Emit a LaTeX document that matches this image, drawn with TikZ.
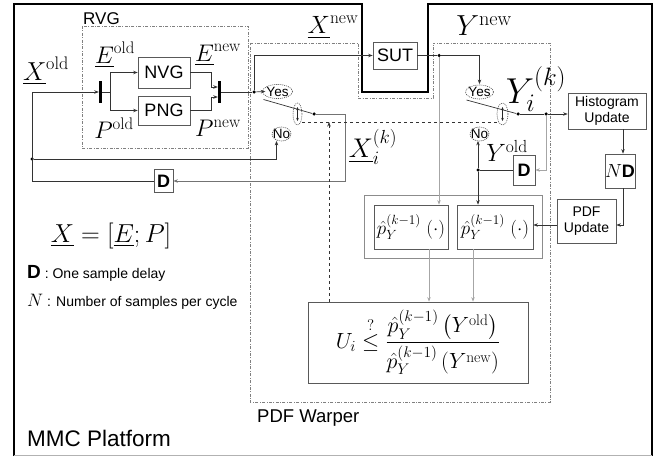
\RequirePackage{fix-cm}
\documentclass[tikz,border=0pt]{standalone}
\usepackage{amsmath}
\usepackage{fontspec}
\setsansfont{Liberation Sans}
\usetikzlibrary{arrows.meta,shapes.geometric,fit,calc}
\tikzset{
 ln/.style={draw=black!80, line width=0.7pt},
 gl/.style={draw=black!35, line width=0.9pt},
 ml/.style={draw=black!55, line width=0.8pt},
 arr/.style={-{Stealth[length=4.5pt,width=3.5pt]}},
 blk/.style={rectangle, draw=black!65, line width=0.7pt, fill=white, inner sep=0pt},
 sf/.style={font=\fontsize{#1}{#1}\selectfont\sffamily},
 mth/.style={font=\fontsize{#1}{#1}\selectfont, inner sep=0pt},
 yn/.style={rectangle, inner sep=0pt, font=\fontsize{13.5}{13.5}\selectfont\sffamily},
 ynring/.style={draw=black!75, line width=0.6pt, dash pattern=on 1pt off 1pt},
 swell/.style={ellipse, draw=black!70, line width=0.6pt, dash pattern=on 1pt off 1pt, inner sep=0pt, minimum height=22pt},
 dd/.style={draw=black!50, line width=0.6pt, dash pattern=on 3pt off 1.5pt on 0.8pt off 1.5pt},
 dt/.style={circle, fill=black, inner sep=0pt, minimum size=3.5pt},
 bar/.style={rectangle, fill=black, inner sep=0pt, minimum width=3pt, minimum height=22pt},
 dbl/.style={{Stealth[length=3pt,width=2.5pt]}-{Stealth[length=3pt,width=2.5pt]}, draw=black!85, line width=0.5pt},
}
\begin{document}
\begin{tikzpicture}[x=1pt,y=-1pt]
\useasboundingbox (0,0) rectangle (660,457);
% frame
\draw[line width=2pt, black] (14,456) -- (14,4) -- (362,4) -- (362,92) -- (428,92) -- (428,4) -- (652,4) -- (652,456);
\draw[black!30, line width=0.6pt] (14,455.5) -- (652,455.5);
% dashed regions
\draw[dd] (82,26) rectangle (248,148);
\node[sf=17, anchor=south west, inner sep=0pt] (rvgl) at (83,25) {RVG};
\draw[dd] (250,43) -- (358,43) -- (358,98) -- (433,98) -- (433,43) -- (550,43) -- (550,402) -- (250,402) -- cycle;
\node[sf=18.5, anchor=north west, inner sep=0pt] (pdfl) at (257,410) {PDF Warper};
\node[sf=22.5, anchor=south west, inner sep=0pt] (mmcl) at (27,447) {MMC Platform};
% blocks
\node[blk, minimum width=52pt, minimum height=31pt, sf=18] (nvg) at (164,72.5) {NVG};
\node[blk, minimum width=52pt, minimum height=29pt, sf=18] (png) at (164,110.5) {PNG};
\node[bar] (s1) at (100.5,92) {};
\node[bar] (m1) at (219.5,92) {};
\node[blk, minimum width=44pt, minimum height=27pt, sf=18] (sut) at (395,55.5) {SUT};
\node[blk, minimum width=19pt, minimum height=23pt, sf=18] (d1) at (163.5,181) {\bfseries D};
\node[blk, minimum width=22pt, minimum height=30pt, sf=18] (d2) at (524,170) {\bfseries D};
\node[blk, minimum width=78pt, minimum height=36pt, font=\fontsize{14}{16.5}\selectfont\sffamily, align=center] (hist) at (607,111) {Histogram\\Update};
\node[blk, minimum width=28pt, minimum height=34pt] (nd) at (620,171) {{\fontsize{19}{19}\selectfont$N$}{\fontsize{18}{18}\selectfont\sffamily\bfseries D}};
\node[blk, minimum width=59pt, minimum height=44pt, font=\fontsize{14}{16.5}\selectfont\sffamily, align=center] (pdfu) at (586.5,221) {PDF\\Update};
\node[blk, minimum width=74pt, minimum height=44pt, mth=19] (pb1) at (411,227) {$\hat{p}_Y^{(k-1)}\;(\cdot)$};
\node[blk, minimum width=76pt, minimum height=44pt, mth=19] (pb2) at (495,227) {$\hat{p}_Y^{(k-1)}\;(\cdot)$};
\node[draw=black!45, line width=0.7pt, fit=(pb1)(pb2), inner sep=9pt] (pbox) {};
\node[blk, minimum width=220pt, minimum height=81pt, mth=22] (ub) at (418,342.5) {$U_i \stackrel{?}{\leq} \dfrac{\hat{p}_Y^{(k-1)}\left(Y^{\mathrm{old}}\right)}{\hat{p}_Y^{(k-1)}\left(Y^{\mathrm{new}}\right)}$};
% yes / no
\node[yn] (y1) at (277.5,91.5) {Yes};
\node[yn] (n1) at (281.5,134) {No};
\node[yn] (y2) at (479.5,92) {Yes};
\node[yn] (n2) at (479.5,134) {No};
\draw[ynring] (y1.center) ellipse [x radius=15pt, y radius=7pt];
\draw[ynring] (n1.center) ellipse [x radius=9.5pt, y radius=7pt];
\draw[ynring] (y2.center) ellipse [x radius=14pt, y radius=7pt];
\draw[ynring] (n2.center) ellipse [x radius=9.5pt, y radius=7pt];
\node[swell, minimum width=9pt] (sw1) at (297.5,114) {};
\node[swell, minimum width=11pt] (sw2) at (502.5,114) {};
\draw[dbl] ([yshift=7pt]sw1.center) -- ([yshift=-7pt]sw1.center);
\draw[dbl] ([yshift=7pt]sw2.center) -- ([yshift=-7pt]sw2.center);
% dots and coordinates
\node[dt] (dot1) at (254,92) {};
\node[dt] (piv1) at (314,114) {};
\node[dt] (dot2) at (439,55.5) {};
\node[dt] (piv2) at (518,114) {};
\node[dt] (dot3) at (546,114) {};
\node[dt] (dot4) at (478,170) {};
\node[dt] (j1) at (32,159) {};
\coordinate (cA) at (32,181);
\coordinate (cB) at (32,92);
\coordinate (cC) at (345,114);
\coordinate (cD) at (345,181);
\coordinate (cE) at (329,122);
\coordinate (q1) at (429,249);
\coordinate (q2) at (473,249);
\coordinate (cN) at (623,225);
\coordinate (cP) at (557,225);
% connectors RVG
\draw[ln,arr] (d1.west) -- (cA) -- (cB) -- (s1.west);
\draw[ln,arr] (j1) -| ([xshift=-5pt,yshift=-2pt]n1.south);
\draw[ln,arr] (s1.east) -- ++(8,0) coordinate (sb) |- (nvg.west);
\draw[ln,arr] (sb) |- (png.west);
\draw[ln,arr] (nvg.east) -| ([xshift=-6pt,yshift=5pt]m1.west) -- ([yshift=5pt]m1.west);
\draw[ln,arr] (png.east) -| ([xshift=-6pt,yshift=-5pt]m1.west) -- ([yshift=-5pt]m1.west);
\draw[ln] (m1.east) -- (dot1);
\draw[ln,arr] (dot1) -- ([xshift=-1pt]y1.west);
\draw[ln,arr] (dot1) |- (sut.west);
\draw[ln] (sut.east) -- (dot2);
\draw[ln,arr] (dot2) -| ([yshift=3pt]y2.north);
\draw[gl,arr] (dot2) -- (dot2 |- pb1.north);
% switch 1
\draw[ln] ($(y1.center)+(-14,8)$) -- (piv1);
\draw[ml,arr] (piv1) -- (cC) -- (cD) -- (d1.east);
\draw[ln,dashed] ([yshift=-8pt]sw1.east) -- ([yshift=-8pt]sw2.west);
\draw[ln,dashed,arr] (cE |- ub.north) -- (cE);
% switch 2
\draw[ln] ($(y2.center)+(-13,8)$) -- (piv2);
\draw[ln] (piv2) -- (dot3);
\draw[ln,arr] (dot3) -- (dot3 -| hist.west);
\draw[gl,arr] (dot3) |- (d2.east);
\draw[ln] (d2.west) -- (dot4);
\draw[ln,arr] (dot4) -- ([yshift=-2pt]dot4 |- n2.south);
\draw[ln,arr] (dot4) -- (dot4 |- pb2.north);
\draw[ln,arr] (hist.south -| cN) -- (nd.north -| cN);
\draw[ln,arr] (nd.south -| cN) -- (cN) -- (cN -| pdfu.east);
\draw[ln,arr] (cP) -- (cP -| pb2.east);
\draw[gl,arr] (q1) -- (q1 |- ub.north);
\draw[gl,arr] (q2) -- (q2 |- ub.north);
% math labels
\node[mth=26] (lxold) at (46,71) {$\underline{X}^{\mathrm{old}}$};
\node[mth=24] (leold) at (115,55) {$\underline{E}^{\mathrm{old}}$};
\node[mth=24] (lenew) at (218,55) {$\underline{E}^{\mathrm{new}}$};
\node[mth=24] (lpold) at (114,128) {$P^{\mathrm{old}}$};
\node[mth=24] (lpnew) at (218,128) {$P^{\mathrm{new}}$};
\node[mth=25] (lxnew) at (333,27) {$\underline{X}^{\mathrm{new}}$};
\node[mth=29] (lynew) at (484,26) {$Y^{\mathrm{new}}$};
\node[mth=27] (lxik) at (373,147) {$\underline{X}_i^{(k)}$};
\node[mth=36] (lyik) at (536,89) {$Y_i^{(k)}$};
\node[mth=25] (lyold) at (507,151) {$Y^{\mathrm{old}}$};
\node[mth=26] (leq) at (111,236) {$\underline{X} = [\underline{E};P]$};
% legend
\node[anchor=west, inner sep=0pt] (lg1) at (27,273) {{\fontsize{19}{19}\selectfont\sffamily\bfseries D}{\fontsize{14}{14}\selectfont\sffamily\ : One sample delay}};
\node[anchor=west, inner sep=0pt] (lg2) at (27,302) {{\fontsize{18}{18}\selectfont$N$}{\fontsize{14}{14}\selectfont\sffamily\ : Number of samples per cycle}};
\end{tikzpicture}
\end{document}
